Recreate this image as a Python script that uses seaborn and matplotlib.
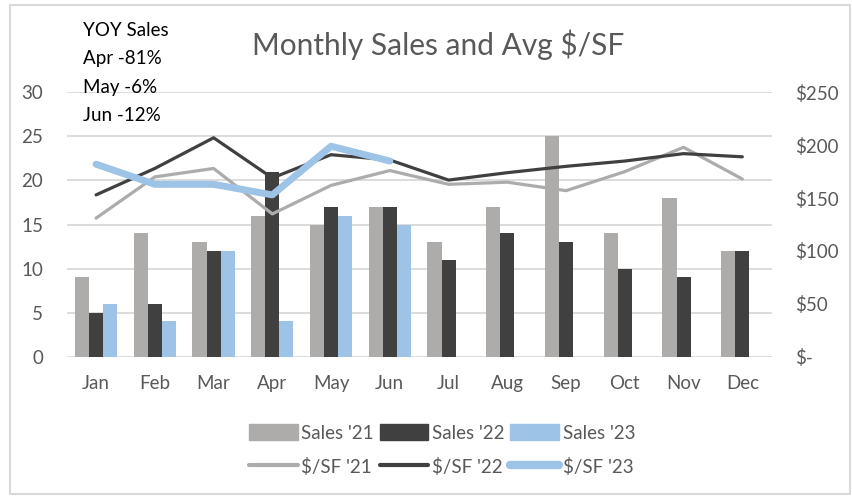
import numpy as np
import pandas as pd
import matplotlib
matplotlib.use("Agg")
import matplotlib.pyplot as plt
import seaborn as sns
from matplotlib.patches import Patch, Rectangle
from matplotlib.lines import Line2D
from matplotlib.ticker import FuncFormatter

months = ["Jan", "Feb", "Mar", "Apr", "May", "Jun", "Jul", "Aug", "Sep", "Oct", "Nov", "Dec"]
sales_21 = [9, 14, 13, 16, 15, 17, 13, 17, 25, 14, 18, 12]
sales_22 = [5, 6, 12, 21, 17, 17, 11, 14, 13, 10, 9, 12]
sales_23 = [6, 4, 12, 4, 16, 15]
psf_21 = [131, 170, 178, 135, 162, 176, 163, 165, 157, 175, 198, 168]
psf_22 = [153, 178, 207, 169, 191, 186, 167, 174, 180, 185, 192, 189]
psf_23 = [182, 163, 163, 153, 199, 185]
yoy_lines = ["YOY Sales", "Apr -81%", "May -6%", "Jun -12%"]

c21, c22, c23 = "#AEABAB", "#404040", "#9DC3E6"
txt_c = "#595959"

sns.set_style("white")
plt.rcParams["font.family"] = ["Lato", "DejaVu Sans"]

rows = []
for lab, vals in (("Sales '21", sales_21), ("Sales '22", sales_22), ("Sales '23", sales_23)):
    for i, m in enumerate(months):
        rows.append({"month": m, "series": lab, "sales": vals[i] if i < len(vals) else np.nan})
bars = pd.DataFrame(rows)

fig = plt.figure(figsize=(8.53, 4.97), dpi=100)
ax = fig.add_axes([66.7 / 853, 1 - 356.7 / 497, 705 / 853, 264.4 / 497])

sns.barplot(data=bars, x="month", y="sales", hue="series", order=months,
            hue_order=["Sales '21", "Sales '22", "Sales '23"],
            palette=[c21, c22, c23], width=0.72, gap=0.0, ax=ax, legend=False,
            errorbar=None, saturation=1, linewidth=0, edgecolor="none")
ax.set_ylim(0, 30)
ax.set_xlim(-0.5, 11.5)
ax.set_yticks(range(0, 31, 5))
ax.yaxis.grid(True, color="#D9D9D9", linewidth=1.3)
ax.set_axisbelow(True)
ax.set_xlabel("")
ax.set_ylabel("")
for s in ax.spines.values():
    s.set_visible(False)
ax.tick_params(axis="both", length=0, colors=txt_c, labelsize=13.5)
ax.tick_params(axis="x", pad=13)
ax.tick_params(axis="y", pad=17)

ax2 = ax.twinx()
x = np.arange(12)
sns.lineplot(x=x, y=psf_21, color=c21, linewidth=2.3, ax=ax2, legend=False)
sns.lineplot(x=x, y=psf_22, color=c22, linewidth=2.3, ax=ax2, legend=False)
sns.lineplot(x=x[:len(psf_23)], y=psf_23, color=c23, linewidth=5, ax=ax2, legend=False,
             solid_capstyle="round")
ax2.set_ylim(0, 250)
ax2.set_yticks(range(0, 251, 50))
ax2.yaxis.set_major_formatter(FuncFormatter(lambda v, p: "$-" if v == 0 else f"${int(v)}"))
for s in ax2.spines.values():
    s.set_visible(False)
ax2.tick_params(axis="y", length=0, colors=txt_c, labelsize=13.5, pad=17)
ax2.set_xlim(-0.5, 11.5)

fig.text(438 / 853, 1 - 45 / 497, "Monthly Sales and Avg $/SF", ha="center", va="center",
         fontsize=21.5, color=txt_c)
for i, t in enumerate(yoy_lines):
    fig.text(83 / 853, 1 - (30 + 28.5 * i) / 497, t, ha="left", va="center",
             fontsize=13.5, color="black")

handles = [Patch(color=c21), Line2D([], [], color=c21, lw=3),
           Patch(color=c22), Line2D([], [], color=c22, lw=3),
           Patch(color=c23), Line2D([], [], color=c23, lw=6, solid_capstyle="round")]
labels = ["Sales '21", "$/SF '21", "Sales '22", "$/SF '22", "Sales '23", "$/SF '23"]
fig.legend(handles, labels, ncol=3, loc="center", bbox_to_anchor=(442 / 853, 1 - 450 / 497),
           frameon=False, fontsize=13.5, labelcolor=txt_c, handlelength=2.6,
           handletextpad=0.2, columnspacing=0.3, labelspacing=0.85, handleheight=0.9)

fig.add_artist(Rectangle((10 / 853, 3 / 497), 840 / 853, 489 / 497, transform=fig.transFigure,
                         fill=False, edgecolor="#D9D9D9", linewidth=1.5))

fig.savefig("out.png", dpi=100)
